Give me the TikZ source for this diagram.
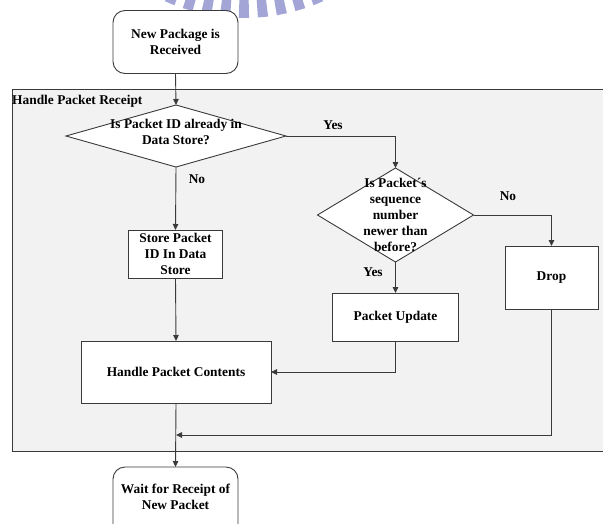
\documentclass[tikz,border=0pt]{standalone}
\usepackage{fontspec}
\setmainfont{Liberation Serif}
\usetikzlibrary{shapes.geometric,arrows.meta}

\definecolor{linec}{HTML}{3A3A3A}
\definecolor{panelc}{HTML}{F2F2F2}
\definecolor{wmark}{RGB}{162,165,214}

\tikzset{
  lbl/.style={font=\bfseries\fontsize{13.4}{16}\selectfont, inner sep=0pt, align=center},
  stepbox/.style={draw=linec, fill=white, line width=0.9pt, inner sep=0pt, outer sep=0pt,
                  font=\bfseries\fontsize{13.4}{16}\selectfont, align=center},
  termbox/.style={stepbox, rounded corners=12pt},
  decision/.style={draw=linec, fill=white, line width=0.9pt, shape=diamond,
                   inner sep=0pt, outer sep=0pt},
  conn/.style={draw=linec, line width=0.9pt},
  arr/.style={conn, -{Triangle[length=6pt,width=5.5pt]}},
}

\begin{document}
\begin{tikzpicture}[x=1pt, y=-1pt]
  \useasboundingbox (0,0) rectangle (603,523);
  \clip (0,0) rectangle (603,523);

  % striped ring emblem along the top edge
  \begin{scope}[shift={(244,-177)}]
    \foreach \a in {62,67.6,...,118} {
      \fill[wmark] (\a-1.5:150) -- (\a-1.5:195) -- (\a+1.5:195) -- (\a+1.5:150) -- cycle;
    }
  \end{scope}

  % grouping panel
  \path[draw=linec, fill=panelc, line width=0.9pt] (12,89) rectangle (625,451);
  \node[lbl, anchor=west] (grp) at (12,101) {Handle Packet Receipt};

  % steps
  \node[termbox, minimum width=125pt, minimum height=63pt] (start) at (175.5,42)
        {New Package is\\Received};
  \node[decision, minimum width=220pt, minimum height=62pt] (d1) at (176,136) {};
  \node[lbl] (d1t) at (176,132) {Is Packet ID already in\\Data Store?};

  \node[decision, minimum width=156pt, minimum height=94pt] (d2) at (395.5,215) {};
  \node[lbl] (d2t) at (395.5,215) {Is Packet´s\\sequence\\number\\newer than\\before?};

  \node[stepbox, minimum width=94pt, minimum height=48pt] (store) at (175.5,254)
        {Store Packet\\ID In Data\\Store};
  \node[stepbox, minimum width=190pt, minimum height=62pt] (hpc) at (176,372)
        {Handle Packet Contents};
  \node[stepbox, minimum width=126pt, minimum height=48pt] (pu) at (395.5,317)
        {Packet Update};
  \node[stepbox, minimum width=93pt, minimum height=63pt] (drop) at (551.5,277.5)
        {Drop};
  \node[termbox, minimum width=125pt, minimum height=70pt] (wait) at (175.5,502) {};
  \node[lbl] (waitt) at (175.5,497) {Wait for Receipt of\\New Packet};

  \coordinate (join) at (176,435);

  % connectors
  \draw[arr] (start.south) -- (d1.north);
  \draw[arr] (d1.east) -| (d2.north);
  \draw[arr] (d1.south) -- (store.north);
  \draw[arr] (store.south) -- (hpc.north);
  \draw[arr] (d2.east) -| (drop.north);
  \draw[arr] (d2.south) -- (pu.north);
  \draw[arr] (pu.south) |- (hpc.east);
  \draw[arr] (drop.south) |- (join);
  \draw[arr] (hpc.south) -- (wait.north);

  % branch labels
  \node[lbl] (yes1) at (333,125) {Yes};
  \node[lbl] (no1) at (197,179) {No};
  \node[lbl] (no2) at (508,196) {No};
  \node[lbl] (yes2) at (373,272) {Yes};
\end{tikzpicture}
\end{document}
